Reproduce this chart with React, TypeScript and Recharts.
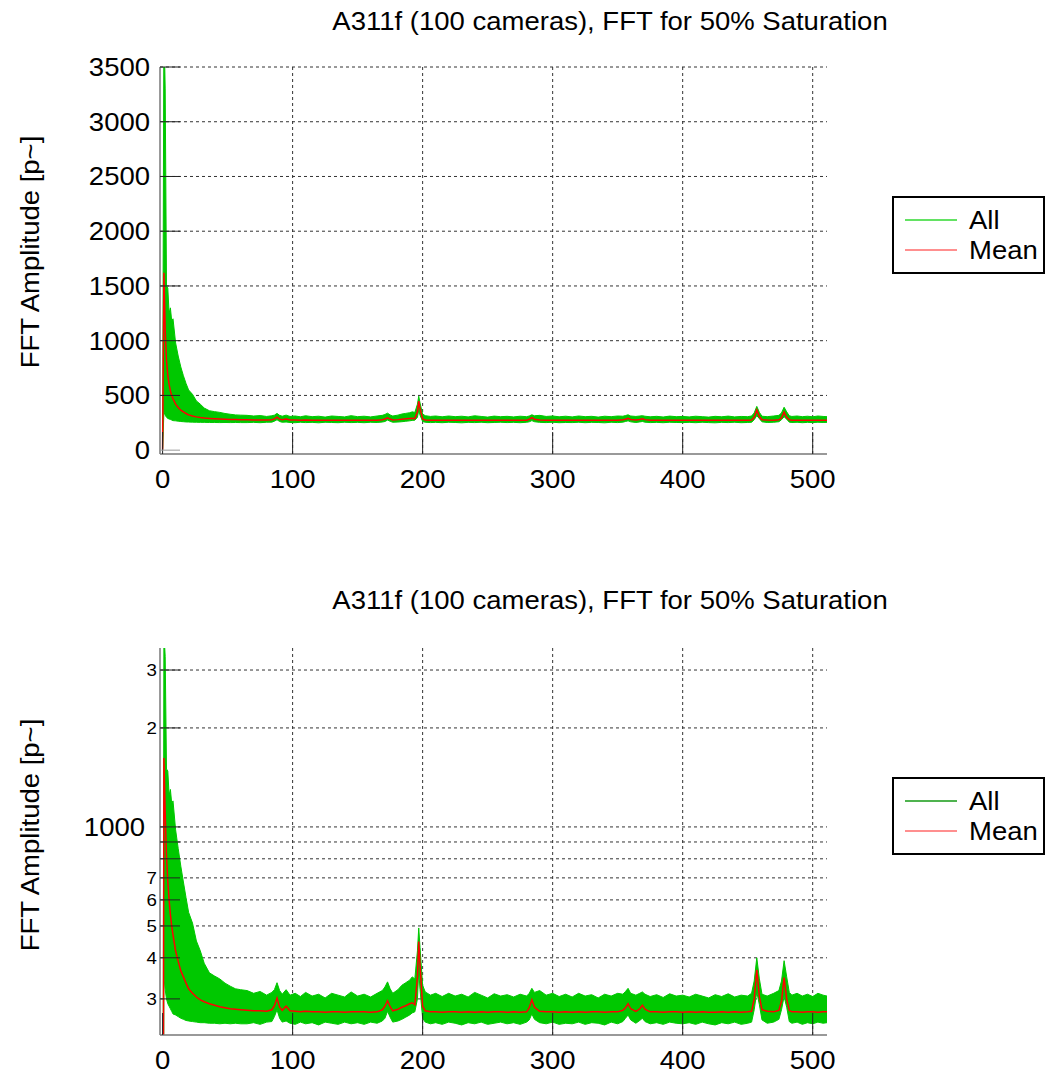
import React from "react";
import { Area, CartesianGrid, ComposedChart, Line, XAxis, YAxis } from "recharts";

// frequency bins (dense near DC and around the narrow peaks)
const freq = [
  0, 1, 2, 3, 4, 5, 6, 7, 8,
  10, 12, 14, 16, 18, 20,
  23, 26, 29, 32, 36, 40, 44, 48, 52, 56, 60,
  65, 70, 75, 80, 84, 86, 88, 90, 92, 95, 98,
  102, 106, 110, 115, 120, 125, 130, 135, 140, 145, 150,
  155, 160, 165, 169, 171, 173, 175, 177, 181, 184, 187,
  190, 192, 194, 196, 197, 198, 200, 202, 206, 210,
  215, 220, 225, 230, 235, 240, 245, 250, 255, 260, 265, 270,
  275, 280, 282, 284, 286, 290, 295, 300, 305, 310,
  315, 320, 325, 330, 335, 340, 345, 350, 354, 356, 358, 360,
  364, 367, 369, 371, 375, 380, 385, 390, 395, 400,
  405, 410, 415, 420, 425, 430, 435, 440, 445, 450,
  453, 455, 457, 459, 461, 465, 470, 474, 476, 478, 480, 482,
  484, 488, 492, 496, 500, 504, 508, 511,
];

// upper edge of the 100 camera traces
const allMax = [
  20, 3900, 3300, 1500, 1480, 1250, 1300, 1180, 1200,
  980, 860, 760, 680, 610, 550,
  510, 450, 420, 385, 360, 352, 345, 335, 328, 322, 320,
  318, 312, 316, 308, 314, 320, 336, 318, 310, 320, 308,
  312, 305, 314, 306, 310, 302, 312, 308, 304, 315, 306,
  310, 304, 312, 318, 326, 338, 322, 312, 320, 330, 336,
  342, 350, 345, 420, 493, 430, 330, 315, 308, 312,
  305, 312, 306, 310, 304, 314, 308, 302, 311, 306, 309, 304,
  310, 306, 312, 323, 314, 318, 308, 312, 305, 310,
  304, 312, 306, 309, 302, 310, 306, 312, 310, 316, 323, 312,
  308, 312, 315, 310, 305, 309, 303, 311, 306, 308,
  304, 310, 306, 302, 309, 305, 311, 304, 308, 306,
  312, 340, 400, 345, 310, 306, 312, 318, 340, 392, 350, 314,
  308, 312, 306, 310, 305, 312, 308, 306,
];

// lower edge of the 100 camera traces
const allMin = [
  1, 350, 320, 300, 290, 285, 280, 275, 270,
  268, 265, 262, 260, 258, 257,
  256, 255, 254, 254, 253, 253, 252, 253, 252, 253, 252,
  252, 254, 251, 255, 256, 265, 278, 262, 255, 257, 253,
  251, 255, 252, 254, 250, 255, 253, 251, 255, 252, 254,
  251, 255, 253, 257, 262, 275, 264, 255, 257, 260, 264,
  268, 272, 274, 300, 365, 320, 262, 255, 252, 254,
  251, 255, 253, 250, 254, 252, 255, 251, 253, 255, 252, 254,
  251, 255, 259, 270, 260, 254, 252, 255, 251, 253,
  252, 255, 251, 254, 253, 250, 255, 252, 256, 262, 268, 259,
  253, 258, 262, 256, 252, 254, 251, 255, 253, 252,
  254, 251, 255, 252, 250, 254, 252, 255, 251, 253,
  255, 278, 315, 288, 259, 253, 255, 260, 278, 305, 283, 256,
  253, 255, 251, 254, 252, 255, 253, 254,
];

// mean over all cameras
const meanAmp = [
  5, 1620, 1100, 820, 680, 600, 540, 500, 470,
  420, 390, 365, 350, 335, 322,
  312, 304, 298, 294, 290, 287, 284, 282, 280, 279, 278,
  277, 276, 276, 275, 278, 286, 302, 283, 277, 285, 276,
  275, 274, 275, 274, 274, 273, 274, 274, 273, 274, 274,
  274, 273, 274, 278, 285, 296, 284, 276, 279, 283, 286,
  290, 292, 288, 350, 448, 380, 285, 276, 274, 274,
  273, 274, 274, 273, 274, 273, 274, 273, 274, 274, 273, 274,
  273, 274, 282, 298, 283, 275, 274, 274, 273, 274,
  273, 274, 273, 274, 274, 273, 274, 274, 277, 282, 290, 280,
  275, 280, 287, 279, 274, 274, 273, 274, 274, 273,
  274, 273, 274, 273, 273, 274, 273, 274, 273, 274,
  275, 300, 368, 305, 278, 275, 274, 277, 295, 348, 300, 277,
  274, 274, 273, 274, 274, 273, 274, 274,
];

const xTicks = [0, 100, 200, 300, 400, 500];
const linTicks = [0, 500, 1000, 1500, 2000, 2500, 3000, 3500];
const logTicks = [300, 400, 500, 600, 700, 800, 900, 1000, 2000, 3000];
const seriesNames = ["All", "Mean"];
const chartTitle = "A311f (100 cameras), FFT for 50% Saturation";
const yTitle = "FFT Amplitude [p~]";

const rows = freq.map((f, i) => ({ f, band: [allMin[i], allMax[i]], mean: meanAmp[i] }));

const FONT = '"Liberation Sans", Arial, Helvetica, sans-serif';
const STRETCH = 1.1;
const W = 1046;
const H = 540;
const MARGIN = { top: 67, right: 219, bottom: 56, left: 100 };

function logLabel(v: number) {
  if (v === 1000) return "1000";
  if (v === 800 || v === 900) return "";
  return String(v).charAt(0);
}

function YTick(props: any) {
  const { x, y, payload, log } = props;
  const v = payload.value;
  const label = log ? logLabel(v) : String(v);
  const small = log && v !== 1000;
  const gap = log ? (small ? 3 : 15) : 10;
  return (
    <g>
      <line x1={x} y1={y} x2={x + 20} y2={y} stroke={!log && v === 0 ? "#999" : "#222"} strokeWidth={1} />
      <text
        transform={`translate(${x - gap},${y}) scale(${STRETCH},1)`}
        textAnchor="end"
        dy="0.36em"
        fontSize={small ? 17 : 25}
        fontFamily={FONT}
        fill="#000"
      >
        {label}
      </text>
    </g>
  );
}

function XTick(props: any) {
  const { x, y, payload } = props;
  return (
    <g>
      <line x1={x} y1={y} x2={x} y2={y - 22} stroke="#222" strokeWidth={1} />
      <text
        transform={`translate(${x},${y + 34}) scale(${STRETCH},1)`}
        textAnchor="middle"
        fontSize={25}
        fontFamily={FONT}
        fill="#000"
      >
        {payload.value}
      </text>
    </g>
  );
}

function LegendBox({ left, top, allColor }: { left: number; top: number; allColor: string }) {
  const colors = [allColor, "#ff6a6a"];
  return (
    <svg style={{ position: "absolute", left, top }} width={154} height={79}>
      <rect x={1} y={1} width={151} height={76} fill="#fff" stroke="#000" strokeWidth={2} />
      {seriesNames.map((name, i) => (
        <g key={name}>
          <line x1={13} x2={65} y1={24 + i * 30} y2={24 + i * 30} stroke={colors[i]} strokeWidth={1.5} />
          <text
            transform={`translate(77,${24 + i * 30}) scale(${STRETCH},1)`}
            dy="0.36em"
            fontSize={25}
            fontFamily={FONT}
            fill="#000"
          >
            {name}
          </text>
        </g>
      ))}
    </svg>
  );
}

function Panel({ log, top }: { log: boolean; top: number }) {
  return (
    <div style={{ position: "absolute", left: 0, top, width: W, height: H }}>
      <ComposedChart width={W} height={H} data={rows} margin={MARGIN}>
        <CartesianGrid
          stroke="#333"
          strokeDasharray="3 3"
          horizontalValues={log ? logTicks : linTicks.slice(1)}
          verticalValues={xTicks.slice(1)}
        />
        <XAxis
          dataKey="f"
          type="number"
          domain={[-2, 511]}
          ticks={xTicks}
          interval={0}
          allowDataOverflow
          height={30}
          tickSize={0}
          tickMargin={0}
          tickLine={false}
          axisLine={{ stroke: "#777", strokeWidth: 1.5 }}
          tick={<XTick />}
        />
        <YAxis
          type="number"
          scale={log ? "log" : "linear"}
          domain={log ? [233, 3500] : [-35, 3500]}
          ticks={log ? logTicks : linTicks}
          interval={0}
          allowDataOverflow
          width={60}
          tickSize={0}
          tickMargin={0}
          tickLine={false}
          axisLine={{ stroke: "#777", strokeWidth: 1.5 }}
          tick={<YTick log={log} />}
        />
        <Area
          dataKey="band"
          type="linear"
          stroke="#00c800"
          strokeWidth={1}
          fill="#00c800"
          fillOpacity={1}
          dot={false}
          activeDot={false}
          isAnimationActive={false}
        />
        <Line
          dataKey="mean"
          type="linear"
          stroke="#ff0000"
          strokeWidth={1.5}
          dot={false}
          activeDot={false}
          isAnimationActive={false}
        />
      </ComposedChart>
    </div>
  );
}

const titleStyle = (top: number): React.CSSProperties => ({
  position: "absolute",
  left: 610,
  top,
  transform: `translate(-50%, -50%) scaleX(${STRETCH})`,
  whiteSpace: "nowrap",
  fontSize: 25,
  fontFamily: FONT,
  color: "#000",
});

const yTitleStyle = (top: number): React.CSSProperties => ({
  position: "absolute",
  left: 30,
  top,
  transform: `translate(-50%, -50%) rotate(-90deg) scaleX(${STRETCH})`,
  whiteSpace: "nowrap",
  fontSize: 25,
  fontFamily: FONT,
  color: "#000",
});

export default function App() {
  return (
    <div style={{ position: "absolute", left: 0, top: 0, width: 1046, height: 1077, background: "#fff" }}>
      <div style={titleStyle(21)}>{chartTitle}</div>
      <div style={yTitleStyle(252)}>{yTitle}</div>
      <Panel log={false} top={0} />
      <LegendBox left={892} top={196} allColor="#2fd82f" />

      <div style={titleStyle(600)}>{chartTitle}</div>
      <div style={yTitleStyle(835)}>{yTitle}</div>
      <Panel log={true} top={581} />
      <LegendBox left={892} top={777} allColor="#149a14" />
    </div>
  );
}
